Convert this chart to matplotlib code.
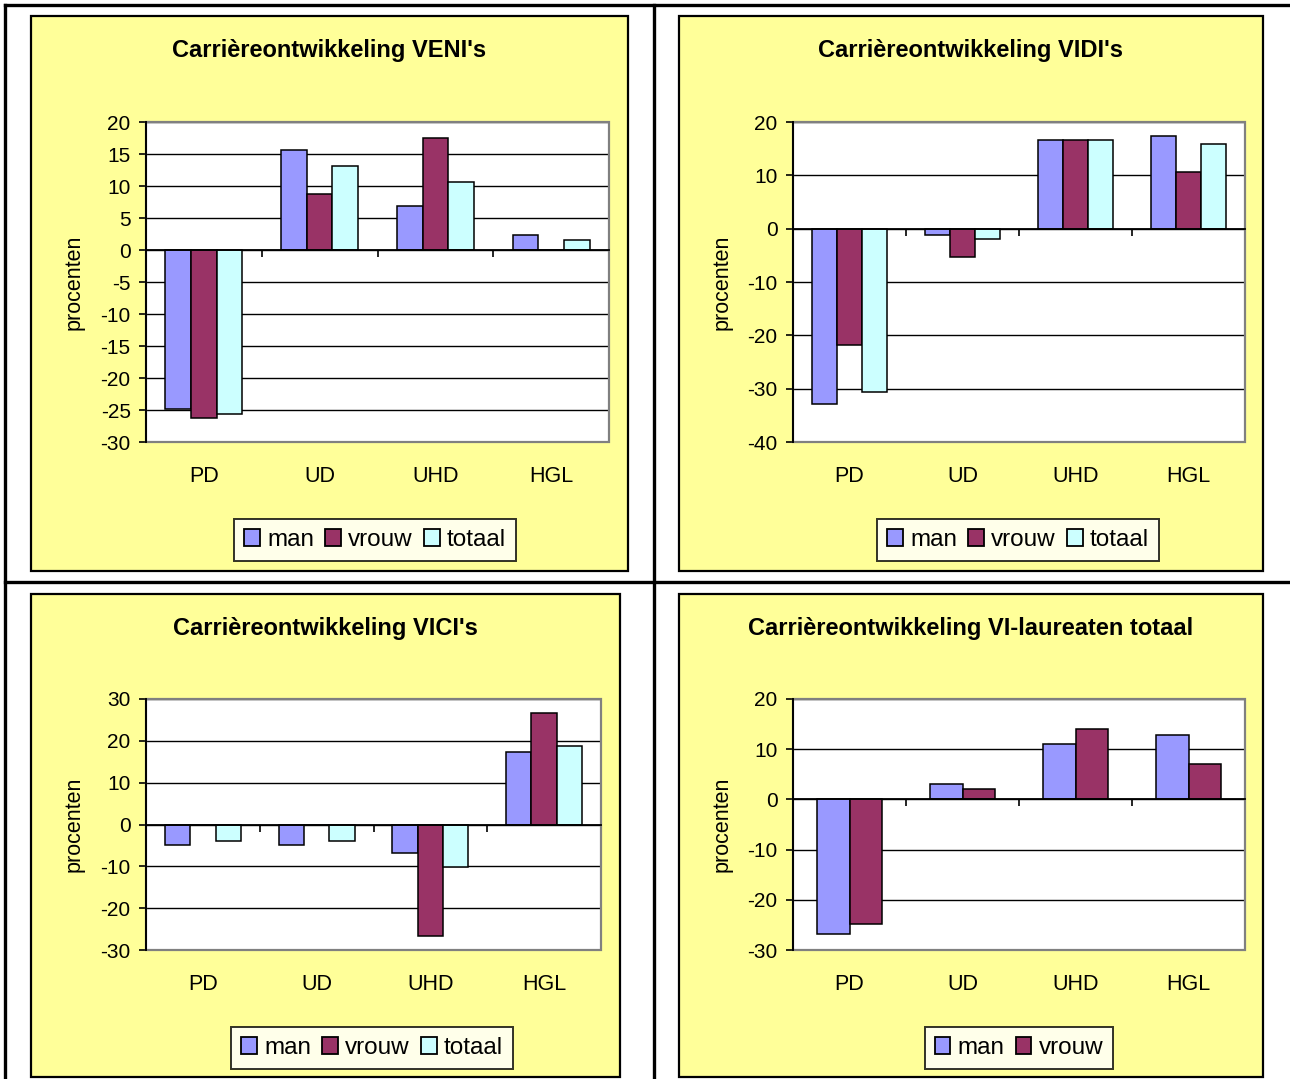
import matplotlib
matplotlib.use('Agg')
import matplotlib.pyplot as plt
from matplotlib.patches import Rectangle, Patch
from matplotlib.lines import Line2D
from matplotlib.transforms import blended_transform_factory

plt.rcParams['font.family'] = ['Liberation Sans', 'DejaVu Sans']
plt.rcParams['axes.unicode_minus'] = False

W, H = 1290, 1079

# ---- data (percent change per function level) ----
categories = ['PD', 'UD', 'UHD', 'HGL']

veni_man = [-24.9, 15.6, 6.9, 2.3]
veni_vrouw = [-26.2, 8.8, 17.5, 0.0]
veni_totaal = [-25.6, 13.1, 10.7, 1.6]

vidi_man = [-32.9, -1.2, 16.6, 17.3]
vidi_vrouw = [-21.9, -5.3, 16.6, 10.7]
vidi_totaal = [-30.6, -2.0, 16.6, 15.9]

vici_man = [-4.8, -4.8, -6.8, 17.4]
vici_vrouw = [0.0, 0.0, -26.7, 26.7]
vici_totaal = [-3.9, -3.9, -10.2, 18.8]

vi_man = [-26.9, 3.1, 11.0, 12.9]
vi_vrouw = [-24.8, 2.0, 14.1, 7.1]

COLORS = {'man': '#9999FF', 'vrouw': '#993366', 'totaal': '#CCFFFF'}
PANEL_BG = '#FFFF99'


def fx(x):
    return x / W


def fy(y):
    return 1 - y / H


fig = plt.figure(figsize=(W / 100, H / 100), dpi=100)
fig.patch.set_facecolor('white')

# outer table lines
for (x0, y0, x1, y1) in [(5, 5, 1290, 5), (5, 5, 5, 1079), (654, 5, 654, 1079), (5, 582, 1290, 582)]:
    fig.add_artist(Line2D([fx(x0), fx(x1)], [fy(y0), fy(y1)], color='black', lw=2.4,
                          transform=fig.transFigure))


def panel(box, plot, title, data, ylim, ystep, legend_c):
    bx0, by0, bx1, by1 = box
    fig.add_artist(Rectangle((fx(bx0), fy(by1)), fx(bx1) - fx(bx0), fy(by0) - fy(by1),
                             transform=fig.transFigure, facecolor=PANEL_BG,
                             edgecolor='black', lw=1.6, zorder=0))
    fig.text(fx((bx0 + bx1) / 2), fy(by0 + 34), title, ha='center', va='center',
             fontsize=17, fontweight='bold')

    px0, py0, px1, py1 = plot
    ax = fig.add_axes([fx(px0), fy(py1), fx(px1) - fx(px0), fy(py0) - fy(py1)])
    ax.set_facecolor('white')
    ax.set_axisbelow(True)

    n = len(data)
    w = 1 / (n + 1.5)
    xs = range(len(categories))
    handles = []
    for i, (name, vals) in enumerate(data):
        off = (i - (n - 1) / 2) * w
        ax.bar([x + off for x in xs], vals, width=w, color=COLORS[name],
               edgecolor='black', linewidth=1.1, zorder=3)
        handles.append(Patch(facecolor=COLORS[name], edgecolor='black', linewidth=1.3, label=name))

    ax.set_xlim(-0.5, len(categories) - 0.5)
    ax.set_ylim(*ylim)
    ax.set_yticks(range(ylim[0], ylim[1] + 1, ystep))
    ax.yaxis.grid(True, color='black', lw=1.0)
    ax.tick_params(axis='y', direction='out', length=5, width=1.2, labelsize=15, pad=6)

    # x axis drawn at zero with ticks between categories
    ax.spines['bottom'].set_position(('data', 0))
    ax.spines['bottom'].set_color('black')
    ax.spines['bottom'].set_linewidth(1.3)
    ax.spines['bottom'].set_zorder(4)
    ax.set_xticks([x - 0.5 for x in range(len(categories) + 1)])
    ax.set_xticklabels([])
    ax.tick_params(axis='x', direction='out', length=5, width=1.2)
    ax.spines['left'].set_color('black')
    ax.spines['left'].set_linewidth(1.4)
    for s in ['top', 'right']:
        ax.spines[s].set_visible(False)
    ax.add_patch(Rectangle((0, 0), 1, 1, transform=ax.transAxes, fill=False,
                           edgecolor='#808080', lw=1.6, zorder=2.5, clip_on=False))

    trans = blended_transform_factory(ax.transData, fig.transFigure)
    for i, c in enumerate(categories):
        ax.text(i, fy(py1 + 35), c, transform=trans, ha='center', va='center', fontsize=15.5)

    ax.set_ylabel('procenten', fontsize=15.5)
    ax.yaxis.set_label_coords(fx(bx0 + 54), 0.5,
                              transform=blended_transform_factory(fig.transFigure, ax.transAxes))

    leg = ax.legend(handles=handles, loc='center', bbox_to_anchor=(fx(legend_c[0]), fy(legend_c[1])),
                    bbox_transform=fig.transFigure, ncol=n, frameon=True, fancybox=False,
                    edgecolor='black', fontsize=17.5, handlelength=0.65, handleheight=0.7,
                    handletextpad=0.3, columnspacing=0.45, borderpad=0.4, borderaxespad=0)
    leg.get_frame().set_linewidth(1.4)
    return ax


panel((31, 16, 628, 571), (146, 122, 609, 442), "Carrièreontwikkeling VENI's",
      [('man', veni_man), ('vrouw', veni_vrouw), ('totaal', veni_totaal)],
      (-30, 20), 5, (375, 540))
panel((679, 16, 1263, 571), (793, 122, 1245, 442), "Carrièreontwikkeling VIDI's",
      [('man', vidi_man), ('vrouw', vidi_vrouw), ('totaal', vidi_totaal)],
      (-40, 20), 10, (1018, 540))
panel((31, 594, 620, 1077), (146, 699, 601, 950), "Carrièreontwikkeling VICI's",
      [('man', vici_man), ('vrouw', vici_vrouw), ('totaal', vici_totaal)],
      (-30, 30), 10, (372, 1048))
panel((679, 594, 1263, 1077), (793, 699, 1245, 950), "Carrièreontwikkeling VI-laureaten totaal",
      [('man', vi_man), ('vrouw', vi_vrouw)],
      (-30, 20), 10, (1019, 1048))

fig.savefig('out.png', dpi=100)
